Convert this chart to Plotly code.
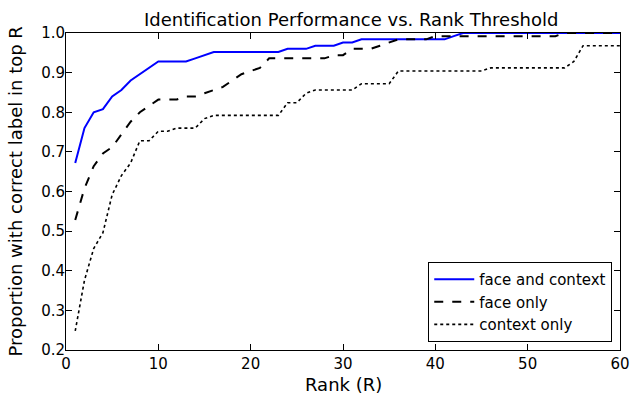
import plotly.graph_objects as go

ranks = list(range(1, 61))

face_and_context = [
    0.672, 0.760, 0.800, 0.808, 0.840, 0.856, 0.880, 0.896, 0.912, 0.928,
    0.928, 0.928, 0.928, 0.936, 0.944, 0.952, 0.952, 0.952, 0.952, 0.952,
    0.952, 0.952, 0.952, 0.960, 0.960, 0.960, 0.968, 0.968, 0.968, 0.976,
    0.976, 0.984, 0.984, 0.984, 0.984, 0.984, 0.984, 0.984, 0.984, 0.984,
    0.984, 0.992, 1.000, 1.000, 1.000, 1.000, 1.000, 1.000, 1.000, 1.000,
    1.000, 1.000, 1.000, 1.000, 1.000, 1.000, 1.000, 1.000, 1.000, 1.000,
]

face_only = [
    0.528, 0.608, 0.664, 0.696, 0.712, 0.744, 0.776, 0.800, 0.816, 0.832,
    0.832, 0.832, 0.840, 0.840, 0.848, 0.856, 0.864, 0.880, 0.896, 0.904,
    0.912, 0.936, 0.936, 0.936, 0.936, 0.936, 0.936, 0.936, 0.944, 0.944,
    0.960, 0.960, 0.960, 0.968, 0.976, 0.984, 0.984, 0.984, 0.984, 0.992,
    0.992, 0.992, 0.992, 0.992, 0.992, 0.992, 0.992, 0.992, 0.992, 0.992,
    0.992, 0.992, 0.992, 1.000, 1.000, 1.000, 1.000, 1.000, 1.000, 1.000,
]

context_only = [
    0.248, 0.376, 0.456, 0.496, 0.592, 0.640, 0.672, 0.728, 0.728, 0.752,
    0.752, 0.760, 0.760, 0.760, 0.784, 0.792, 0.792, 0.792, 0.792, 0.792,
    0.792, 0.792, 0.792, 0.824, 0.824, 0.848, 0.856, 0.856, 0.856, 0.856,
    0.856, 0.872, 0.872, 0.872, 0.872, 0.904, 0.904, 0.904, 0.904, 0.904,
    0.904, 0.904, 0.904, 0.904, 0.904, 0.912, 0.912, 0.912, 0.912, 0.912,
    0.912, 0.912, 0.912, 0.912, 0.928, 0.968, 0.968, 0.968, 0.968, 0.968,
]

x_ticks = [0, 10, 20, 30, 40, 50, 60]
y_ticks = [0.2, 0.3, 0.4, 0.5, 0.6, 0.7, 0.8, 0.9, 1.0]

FONT = "DejaVu Sans"

fig = go.Figure()
fig.add_trace(go.Scatter(x=ranks, y=face_and_context, mode="lines",
                         name="face and context",
                         line=dict(color="#0000ff", width=2)))
fig.add_trace(go.Scatter(x=ranks, y=face_only, mode="lines",
                         name="face only",
                         line=dict(color="black", width=2, dash="dash")))
fig.add_trace(go.Scatter(x=ranks, y=context_only, mode="lines",
                         name="context only",
                         line=dict(color="black", width=1.6, dash="dot")))

axis_common = dict(
    showgrid=False, zeroline=False, showline=True, linecolor="black",
    linewidth=1, mirror="ticks", ticks="inside", ticklen=6,
    tickcolor="black", tickwidth=1, automargin=False,
    tickfont=dict(family=FONT, size=15, color="black"),
)

fig.update_layout(
    width=630, height=396,
    margin=dict(l=66, r=10, t=33, b=46),
    paper_bgcolor="white", plot_bgcolor="white",
    font=dict(family=FONT, color="black"),
    xaxis=dict(range=[0, 60], tickvals=x_ticks,
               ticktext=[str(v) for v in x_ticks], **axis_common),
    yaxis=dict(range=[0.2, 1.0], tickvals=y_ticks, ticklabelstandoff=-3,
               ticktext=[f"{v:.1f}" for v in y_ticks], **axis_common),
    legend=dict(x=0.986, y=0.025, xanchor="right", yanchor="bottom",
                bgcolor="white", bordercolor="black", borderwidth=1,
                font=dict(family=FONT, size=15, color="black"),
                tracegroupgap=0, itemwidth=40),
    showlegend=True,
    annotations=[
        dict(text="Identification Performance vs. Rank Threshold",
             xref="paper", yref="paper", x=0.5, y=1.0, yshift=14, xshift=8,
             xanchor="center", yanchor="middle", showarrow=False,
             font=dict(family=FONT, size=18, color="black")),
        dict(text="Rank (R)", xref="paper", yref="paper", x=0.5, y=0,
             yshift=-34, xanchor="center", yanchor="middle", showarrow=False,
             font=dict(family=FONT, size=18, color="black")),
        dict(text="Proportion with correct label in top R", xref="paper",
             yref="paper", x=0, y=0.5, xshift=-51, xanchor="center",
             yanchor="middle", textangle=-90, showarrow=False,
             font=dict(family=FONT, size=18, color="black")),
    ],
)

fig.write_html("out.html", config={"displayModeBar": False},
               post_script="document.body.style.margin='0';document.body.style.padding='0';")
